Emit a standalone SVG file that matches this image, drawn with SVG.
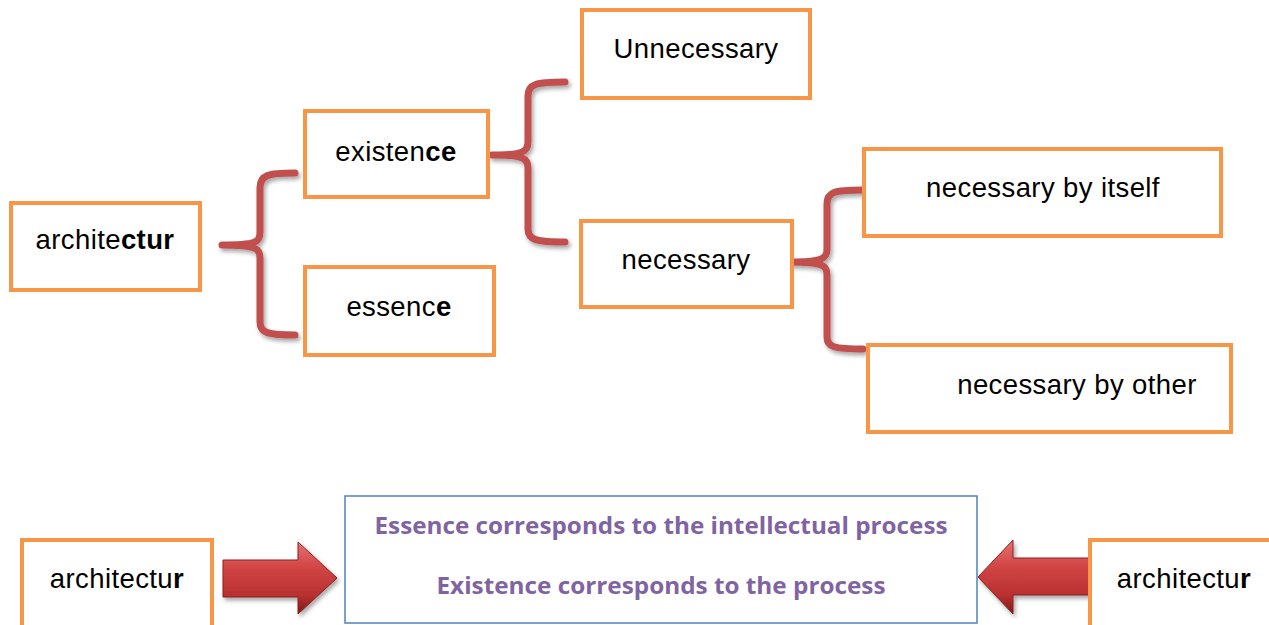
<svg xmlns="http://www.w3.org/2000/svg" width="1269" height="625" viewBox="0 0 1269 625">
<defs>
<style>
.box{fill:#fff;stroke:#F79646;stroke-width:4}
.t{font-family:"Liberation Sans",Arial,sans-serif;font-size:27.5px;letter-spacing:0.4px;fill:#000;text-anchor:middle}
.b{font-weight:bold}
.brace{fill:none;stroke:#C0504D;stroke-width:7;stroke-linecap:round;stroke-linejoin:round;filter:url(#sh)}
.p{font-family:"Open Sans","Liberation Sans",sans-serif;font-weight:bold;font-size:23px;fill:#8064A2;text-anchor:middle}
.arrow{fill:url(#rg);stroke:#8B2020;stroke-width:1;filter:url(#sh2)}
</style>
<filter id="sh" x="-30%" y="-10%" width="160%" height="120%">
<feDropShadow dx="2" dy="3" stdDeviation="2" flood-color="#000" flood-opacity="0.35"/>
</filter>
<filter id="sh2" x="-20%" y="-20%" width="140%" height="150%">
<feDropShadow dx="2" dy="3" stdDeviation="2" flood-color="#000" flood-opacity="0.35"/>
</filter>
<linearGradient id="rg" x1="0" y1="0" x2="0" y2="1">
<stop offset="0" stop-color="#E57373"/>
<stop offset="0.35" stop-color="#D24545"/>
<stop offset="0.75" stop-color="#B8302F"/>
<stop offset="1" stop-color="#7E1A1A"/>
</linearGradient>
</defs>
<rect width="1269" height="625" fill="#fff"/>
<g id="connectors">
<path class="brace" d="M295,173 C268,173 260,175 260,188 L260,232 C260,243 255,245 222,245 C255,245 260,248 260,258 L260,322 C260,333 268,335 295,335"/>
<path class="brace" d="M565,82 C536,82 528,84 528,96 L528,142 C528,152 523,155 492,155 C523,155 528,158 528,168 L528,229 C528,240 536,242 565,242"/>
<path class="brace" d="M863,190 C834,190 827,192 827,204 L827,249 C827,259 822,262 790,262 C822,262 827,265 827,275 L827,337 C827,347 834,349 863,349"/>
<path class="arrow" d="M223,560 L298,560 L298,542 L337,578 L298,614 L298,597 L223,597 Z"/>
<path class="arrow" d="M1090,558 L1013,558 L1013,540 L978,577 L1013,614 L1013,595 L1090,595 Z"/>
</g>
<g id="n-architectur">
<rect class="box" x="11" y="203" width="189" height="87"/>
<text class="t" x="105" y="249">archite<tspan class="b">ctur</tspan></text>
</g>
<g id="n-existence">
<rect class="box" x="305" y="111" width="183" height="86"/>
<text class="t" x="396" y="161">existen<tspan class="b">ce</tspan></text>
</g>
<g id="n-essence">
<rect class="box" x="305" y="267" width="189" height="88"/>
<text class="t" x="399" y="316">essenc<tspan class="b">e</tspan></text>
</g>
<g id="n-unnecessary">
<rect class="box" x="582" y="10" width="228" height="88"/>
<text class="t" x="696" y="58">Unnecessary</text>
</g>
<g id="n-necessary">
<rect class="box" x="581" y="221" width="211" height="86"/>
<text class="t" x="686" y="269">necessary</text>
</g>
<g id="n-by-itself">
<rect class="box" x="864" y="149" width="357" height="87"/>
<text class="t" x="1043" y="197">necessary by itself</text>
</g>
<g id="n-by-other">
<rect class="box" x="868" y="345" width="363" height="87"/>
<text class="t" x="1077" y="394">necessary by other</text>
</g>
<g id="n-architectur-left">
<rect class="box" x="22" y="540" width="190" height="90"/>
<text class="t" x="117" y="588">architectu<tspan class="b">r</tspan></text>
</g>
<g id="n-architectur-right">
<rect class="box" x="1090" y="540" width="185" height="90"/>
<text class="t" x="1184" y="588">architectu<tspan class="b">r</tspan></text>
</g>
<g id="n-center">
<rect x="345" y="496" width="632" height="127" fill="#fff" stroke="#4F81BD" stroke-width="1.5"/>
<text class="p" x="661" y="534" textLength="573" lengthAdjust="spacingAndGlyphs">Essence corresponds to the intellectual process</text>
<text class="p" x="661" y="594" textLength="449" lengthAdjust="spacingAndGlyphs">Existence corresponds to the process</text>
</g>
</svg>
